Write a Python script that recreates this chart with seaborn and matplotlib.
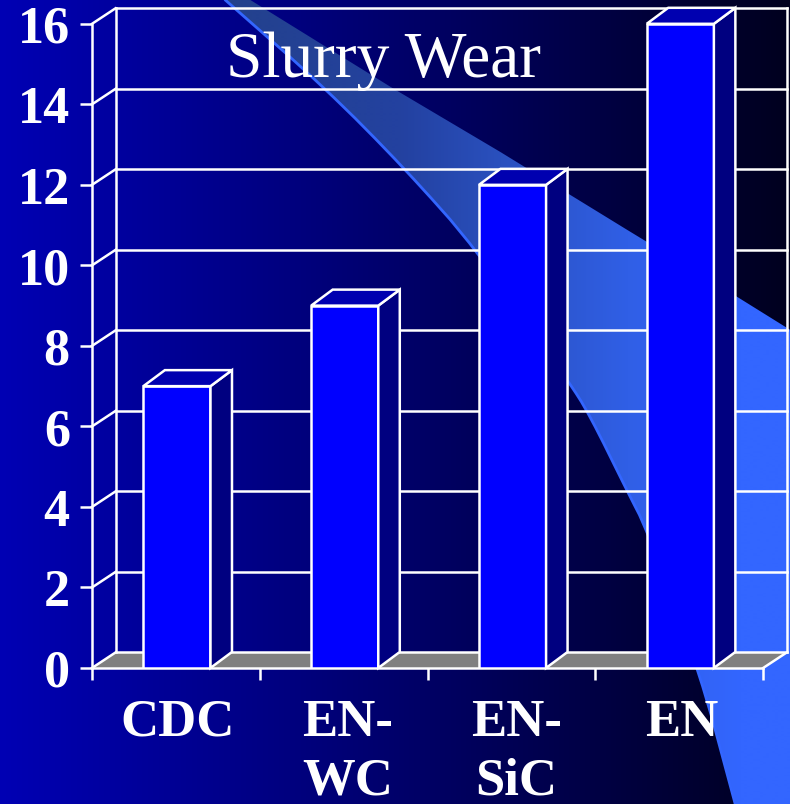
import numpy as np
import pandas as pd
import matplotlib
matplotlib.use("Agg")
import matplotlib.pyplot as plt
from matplotlib.patches import Polygon
from matplotlib.transforms import ScaledTranslation
import seaborn as sns

# ---- data ----
categories = ["CDC", "EN-\nWC", "EN-\nSiC", "EN"]
wear = [7, 9, 12, 16]
y_ticks = [0, 2, 4, 6, 8, 10, 12, 14, 16]
title = "Slurry Wear"

# ---- style ----
W, H = 790, 804
WHITE = "#ffffff"
sns.set_theme(style="white")
plt.rcParams["font.family"] = ["Liberation Serif", "DejaVu Serif"]

fig = plt.figure(figsize=((W + 0.2) / 100, (H + 0.2) / 100), dpi=100)


def chaikin(points, rounds=2):
    pts = np.asarray(points, float)
    for _ in range(rounds):
        q = 0.75 * pts[:-1] + 0.25 * pts[1:]
        r = 0.25 * pts[:-1] + 0.75 * pts[1:]
        mid = np.empty((2 * len(q), 2))
        mid[0::2], mid[1::2] = q, r
        pts = np.vstack([pts[:1], mid, pts[-1:]])
    return pts


# ---- decorative background, in pixel coordinates ----
bg = fig.add_axes([0, 0, 1, 1], zorder=0)
bg.set_xlim(0, W)
bg.set_ylim(H, 0)
bg.axis("off")
xs = np.arange(W)
grad = np.zeros((2, W, 3))
grad[:, :, 2] = np.interp(xs, [0, 300, 790], [180, 125, 30]) / 255
bg.imshow(grad, extent=[0, W, H, 0], aspect="auto", interpolation="bilinear", zorder=0)

upper = [(250, 0), (392, 88), (500, 152), (627, 230), (737, 297), (790, 330)]
lower = chaikin([(225, 0), (325, 88), (405, 169), (477, 250), (568, 381), (589, 414),
                 (628, 493), (646, 528), (699, 670), (735, 804)])
outline = upper + [(790, 804)] + [tuple(p) for p in lower[::-1]]
sw = np.zeros((2, W, 3))
sw[:, :, 0] = np.interp(xs, [225, 400, 500, 627, 740], [35, 35, 42, 48, 51]) / 255
sw[:, :, 1] = np.interp(xs, [225, 400, 500, 627, 740], [65, 65, 80, 95, 102]) / 255
sw[:, :, 2] = np.interp(xs, [225, 400, 500, 627, 740], [140, 160, 190, 230, 255]) / 255
im = bg.imshow(sw, extent=[0, W, H, 0], aspect="auto", interpolation="bilinear", zorder=1)
clip = Polygon(outline, closed=True, transform=bg.transData, fc="none", ec="none")
bg.add_patch(clip)
im.set_clip_path(clip)
bg.plot(lower[:, 0], lower[:, 1], color="#3366ff", lw=2.0, zorder=2)
bg.set_xlim(0, W)
bg.set_ylim(H, 0)

# ---- chart ----
ax = fig.add_axes([92 / W, 1 - 668 / H, (763 - 92) / W, (668 - 24) / H], zorder=1)
ax.patch.set_visible(False)
df = pd.DataFrame({"category": categories, "wear": wear})
LW = 1.8
sns.barplot(data=df, x="category", y="wear", color="#0000ff", saturation=1,
            width=0.4, edgecolor=WHITE, linewidth=LW, ax=ax, zorder=5)
x0, x1 = -0.506, 3.494
ax.set_xlim(x0, x1)
ax.set_ylim(0, 16)
ax.set_xlabel("")
ax.set_ylabel("")
for s in ax.spines.values():
    s.set_visible(False)

px_x = (x1 - x0) / (763 - 92)
px_y = 16 / (668 - 24)
wall_dx, wall_dy = 23.5 * px_x, 15.5 * px_y
bar_dx, bar_dy = 21.5 * px_x, 16 * px_y
kw = dict(color=WHITE, lw=LW, clip_on=False, solid_capstyle="projecting")

# floor
ax.add_patch(Polygon([(x0, 0), (x1, 0), (x1 + wall_dx, wall_dy), (x0 + wall_dx, wall_dy)],
                     closed=True, fc="#808080", ec="none", clip_on=False, zorder=1))
# back wall and left wall
for v in y_ticks:
    ax.plot([x0 + wall_dx, x1 + wall_dx], [v + wall_dy] * 2, zorder=2, **kw)
    ax.plot([x0, x0 + wall_dx], [v, v + wall_dy], zorder=2, **kw)
ax.plot([x0, x0], [0, 16], zorder=2, **kw)
ax.plot([x0 + wall_dx] * 2, [wall_dy, 16 + wall_dy], zorder=2, **kw)
ax.plot([x1 + wall_dx] * 2, [wall_dy, 16 + wall_dy], zorder=2, **kw)
ax.plot([x1, x1 + wall_dx], [0, wall_dy], zorder=2, **kw)
ax.plot([x0, x1], [0, 0], zorder=4, **kw)

# 3-D bar faces
for i, v in enumerate(wear):
    l, r = i - 0.2, i + 0.2
    ax.add_patch(Polygon([(r, 0), (r + bar_dx, bar_dy), (r + bar_dx, v + bar_dy), (r, v)],
                         closed=True, fc="#000080", ec=WHITE, lw=LW, clip_on=False, zorder=5))
    ax.add_patch(Polygon([(l, v), (r, v), (r + bar_dx, v + bar_dy), (l + bar_dx, v + bar_dy)],
                         closed=True, fc="#0000b0", ec=WHITE, lw=LW, clip_on=False, zorder=5))

# ticks
ax.set_yticks(y_ticks)
ax.set_xticks(range(len(categories)))
ax.set_xticklabels(categories, linespacing=1.3)
ax.set_xticks([x0 + i for i in range(5)], minor=True)
ax.tick_params(axis="y", which="major", left=True, length=8.5, width=LW, color=WHITE,
               pad=7.5, labelcolor=WHITE, labelsize=37.5)
ax.tick_params(axis="x", which="major", bottom=False, length=0, pad=22,
               labelcolor=WHITE, labelsize=38)
ax.tick_params(axis="x", which="minor", bottom=True, length=8.5, width=LW, color=WHITE)
for t in ax.get_xticklabels() + ax.get_yticklabels():
    t.set_fontweight("bold")
label_shift_px = [1, 3, 4, 1]
for t, dx in zip(ax.get_xticklabels(), label_shift_px):
    t.set_transform(t.get_transform() + ScaledTranslation(dx / 100, 0, fig.dpi_scale_trans))

ax.text(383, 77, title, transform=bg.transData, color=WHITE, fontsize=47.2,
        ha="center", va="baseline", zorder=6)

fig.savefig("out.png", dpi=100, facecolor=fig.get_facecolor())
